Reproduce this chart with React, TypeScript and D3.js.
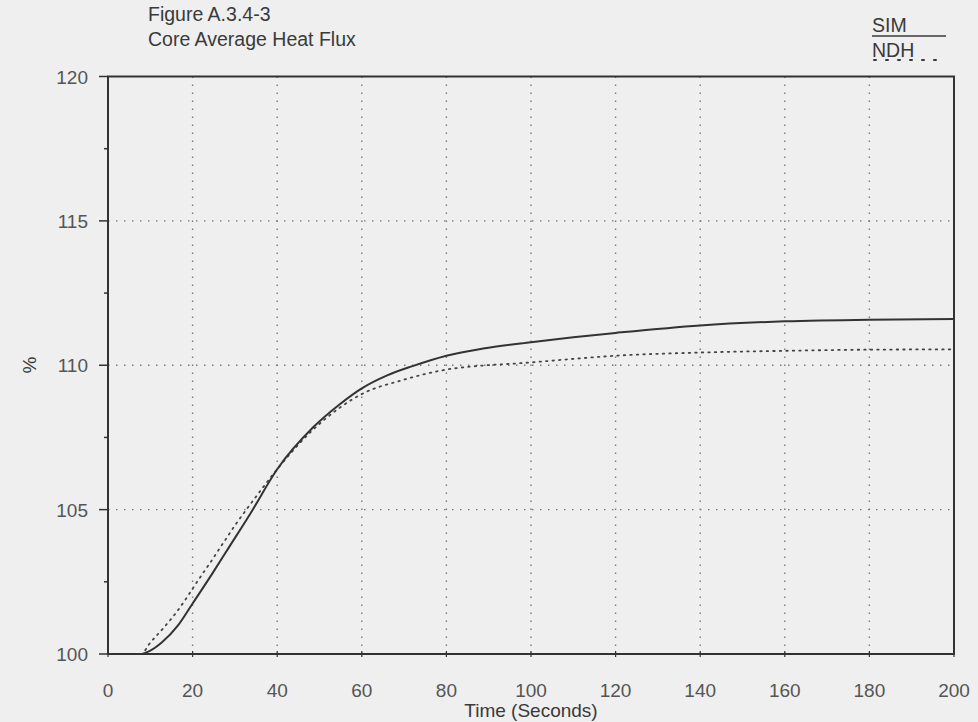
import React, { useEffect } from "react";
import * as d3 from "d3";

// values
const simTime = [0, 7.6, 10, 12.7, 16.6, 20, 24.5, 28.4, 33.6, 40, 48.5, 54.8, 60, 66, 72, 80, 88.7, 100, 110, 120, 140, 160, 180, 200];
const simValue = [100, 100, 100.12, 100.4, 101.0, 101.75, 102.75, 103.65, 104.85, 106.4, 107.85, 108.65, 109.2, 109.65, 109.97, 110.33, 110.58, 110.8, 110.97, 111.12, 111.38, 111.52, 111.58, 111.6];

const ndhTime = [0, 8, 9.5, 13.1, 16.2, 18.6, 21.3, 24.1, 26.5, 30, 35, 40, 48, 54.8, 60.5, 69, 80, 88.7, 97.4, 110, 120, 140, 160, 180, 200];
const ndhValue = [100, 100, 100.3, 100.9, 101.45, 101.95, 102.55, 103.15, 103.68, 104.45, 105.45, 106.4, 107.7, 108.53, 109.04, 109.46, 109.85, 109.99, 110.07, 110.22, 110.33, 110.44, 110.5, 110.54, 110.55];

const xTicks = [0, 20, 40, 60, 80, 100, 120, 140, 160, 180, 200];
const yTicks = [100, 105, 110, 115, 120];
const yMinor = [102.5, 107.5, 112.5, 117.5];

const W = 978;
const H = 722;
const FONT = "'Liberation Sans', Arial, Helvetica, sans-serif";
const INK = "#3a3a3a";

export default function App() {
	useEffect(() => {
		document.body.style.margin = "0";
	}, []);

	const x = d3.scaleLinear().domain([0, 200]).range([108, 954]);
	const y = d3.scaleLinear().domain([100, 120]).range([654, 76.5]);

	const line = d3
		.line<[number, number]>()
		.x((d) => x(d[0]))
		.y((d) => y(d[1]))
		.curve(d3.curveMonotoneX);

	const simPath = line(simTime.map((t, i) => [t, simValue[i]]) as [number, number][]) ?? "";
	const ndhPath = line(ndhTime.map((t, i) => [t, ndhValue[i]]) as [number, number][]) ?? "";

	return (
		<svg width={W} height={H} style={{ display: "block" }} fontFamily={FONT}>
			<rect width={W} height={H} fill="#efefef" />

			{/* header */}
			<text x={148} y={21} fontSize={19.5} fill={INK}>Figure A.3.4-3</text>
			<text x={148} y={46} fontSize={19.5} fill={INK}>Core Average Heat Flux</text>
			<text x={872} y={32} fontSize={19.5} fill={INK}>SIM</text>
			<line x1={872} x2={946} y1={36} y2={36} stroke={INK} strokeWidth={1.6} />
			<text x={872} y={57} fontSize={19.5} fill={INK}>NDH</text>
			<line x1={874} x2={946} y1={60} y2={60} stroke={INK} strokeWidth={2} strokeDasharray="2 10" strokeLinecap="round" />

			{/* grid */}
			<g stroke="#7a7a7a" strokeWidth={1.4} strokeDasharray="1.5 6.5">
				{xTicks.slice(1, -1).map((t) => (
					<line key={"gx" + t} x1={x(t)} x2={x(t)} y1={y(120)} y2={y(100)} />
				))}
				{yTicks.slice(1, -1).map((t) => (
					<line key={"gy" + t} x1={x(0)} x2={x(200)} y1={y(t)} y2={y(t)} />
				))}
			</g>

			{/* curves */}
			<path d={ndhPath} fill="none" stroke="#444" strokeWidth={1.8} strokeDasharray="1.5 5" strokeLinecap="round" />
			<path d={simPath} fill="none" stroke="#333" strokeWidth={2} />

			{/* frame */}
			<rect x={x(0)} y={y(120)} width={x(200) - x(0)} height={y(100) - y(120)} fill="none" stroke="#333" strokeWidth={2} />

			{/* y axis ticks */}
			{yTicks.map((t) => (
				<g key={"yt" + t}>
					<line x1={x(0) - 9} x2={x(0)} y1={y(t)} y2={y(t)} stroke="#333" strokeWidth={1.5} />
					<text x={88} y={y(t) + 7} fontSize={19} fill="#555" textAnchor="end">{t}</text>
				</g>
			))}
			{yMinor.map((t) => (
				<line key={"ym" + t} x1={x(0) - 4} x2={x(0)} y1={y(t)} y2={y(t)} stroke="#333" strokeWidth={1.5} />
			))}

			{/* x axis ticks */}
			{xTicks.map((t) => (
				<g key={"xt" + t}>
					<line x1={x(t)} x2={x(t)} y1={y(100) - 3} y2={y(100) + 3} stroke="#333" strokeWidth={1.2} />
					<text x={x(t)} y={697} fontSize={19} fill="#555" textAnchor="middle">{t}</text>
				</g>
			))}

			<text x={531} y={717} fontSize={19} fill={INK} textAnchor="middle">Time (Seconds)</text>
			<text transform={`translate(36,365) rotate(-90)`} fontSize={19} fill={INK} textAnchor="middle">%</text>
		</svg>
	);
}
